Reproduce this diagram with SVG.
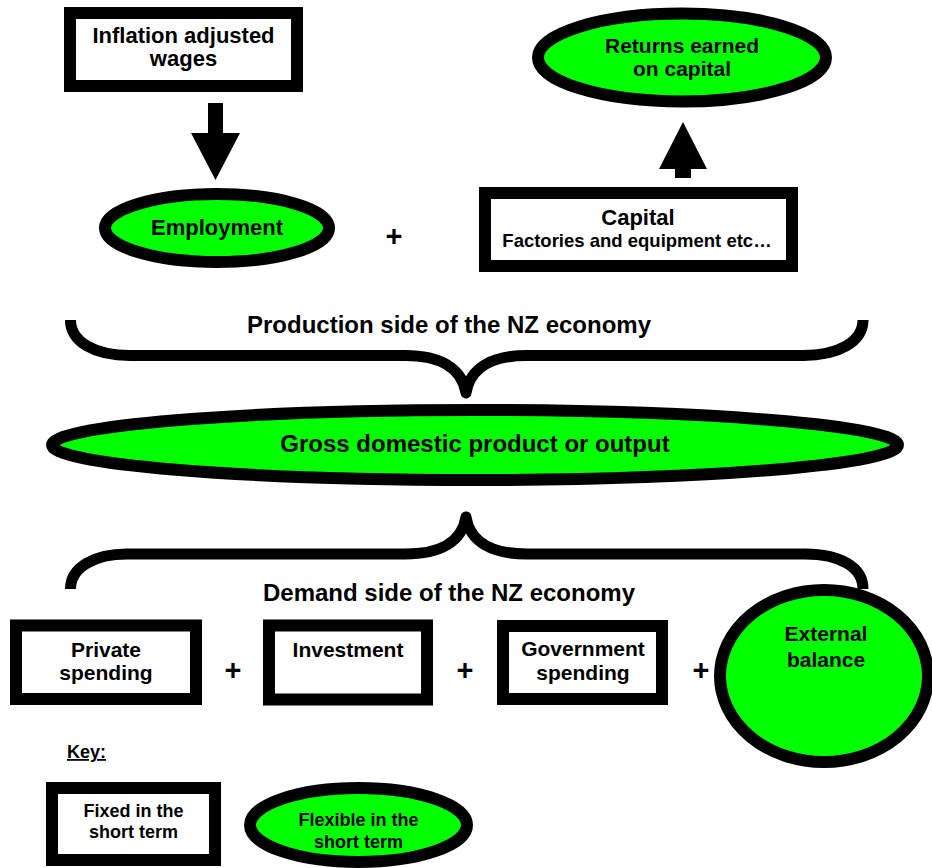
<svg xmlns="http://www.w3.org/2000/svg" width="932" height="868" viewBox="0 0 932 868">
<style>
.box{fill:#fff;stroke:#000;stroke-width:12}
.oval{fill:#00ff00;stroke:#000;stroke-width:12}
.brace{fill:none;stroke:#000;stroke-width:11;stroke-linecap:butt;stroke-linejoin:round}
.arrow{fill:#000;stroke:none}
text{font-family:"Liberation Sans",Arial,Helvetica,sans-serif;font-weight:bold;fill:#000;text-anchor:middle}
.t22{font-size:22px}
.t21{font-size:21px}
.t24{font-size:24px}
.t18{font-size:18px}
.plus{font-size:29px}
</style>
<rect width="932" height="868" fill="#fff"/>
<g id="connectors">
<polygon class="arrow" points="208,103 223,103 223,133 240,133 215.5,180 191,133 208,133"/>
<polygon class="arrow" points="683,122 707,169 691,169 691,178 675,178 675,169 659,169"/>
<path class="brace" d="M70.5,320 C70.5,342 95,355.5 130,355.5 L405,355.5 C440,355.5 462,368 466,393 C470,368 492,355.5 527,355.5 L803,355.5 C838,355.5 863,342 863,320"/>
<path class="brace" d="M70.5,589 C70.5,567 95,554 127,554 L405,554 C440,554 462,542 466,517 C470,542 492,554 527,554 L805,554 C840,554 863,567 863,589"/>
</g>
<g id="inflation">
<rect class="box" x="70" y="13" width="227" height="73"/>
<text class="t22" x="183.5" y="43">Inflation adjusted</text>
<text class="t22" x="183.5" y="66">wages</text>
</g>
<g id="returns">
<ellipse class="oval" cx="682" cy="57.5" rx="144" ry="44"/>
<text class="t21" x="682" y="53">Returns earned</text>
<text class="t21" x="682" y="76">on capital</text>
</g>
<g id="employment">
<ellipse class="oval" cx="217" cy="228" rx="112" ry="34"/>
<text class="t22" x="217" y="235">Employment</text>
</g>
<g id="plus-production">
<text class="plus" x="394" y="246">+</text>
</g>
<g id="capital">
<rect class="box" x="485" y="193" width="307" height="73"/>
<text class="t22" x="638" y="225">Capital</text>
<text class="t18" x="637" y="247" style="font-size:18.5px">Factories and equipment etc…</text>
</g>
<g id="production-label">
<text class="t24" x="449" y="333">Production side of the NZ economy</text>
</g>
<g id="gdp">
<ellipse class="oval" cx="475" cy="445" rx="423" ry="35"/>
<text class="t24" x="475" y="452">Gross domestic product or output</text>
</g>
<g id="demand-label">
<text class="t24" x="449" y="601">Demand side of the NZ economy</text>
</g>
<g id="private">
<rect class="box" x="16" y="625.5" width="180" height="73.5"/>
<text class="t21" x="106" y="657">Private</text>
<text class="t21" x="106" y="680">spending</text>
</g>
<g id="plus1"><text class="plus" x="233" y="680">+</text></g>
<g id="investment">
<rect class="box" x="269" y="625.5" width="158" height="74"/>
<text class="t21" x="348" y="657">Investment</text>
</g>
<g id="plus2"><text class="plus" x="465" y="680">+</text></g>
<g id="government">
<rect class="box" x="503" y="626" width="159" height="73"/>
<text class="t21" x="583" y="656">Government</text>
<text class="t21" x="583" y="680">spending</text>
</g>
<g id="plus3"><text class="plus" x="701" y="680">+</text></g>
<g id="external">
<ellipse class="oval" cx="824" cy="676" rx="104" ry="86"/>
<text class="t21" x="826" y="641">External</text>
<text class="t21" x="826" y="667">balance</text>
</g>
<g id="key-label">
<text class="t18" x="86.5" y="758" text-decoration="underline">Key:</text>
</g>
<g id="key-fixed">
<rect class="box" x="52" y="788" width="163" height="72"/>
<text class="t18" x="133.5" y="817">Fixed in the</text>
<text class="t18" x="133.5" y="838">short term</text>
</g>
<g id="key-flexible">
<ellipse class="oval" cx="358.5" cy="825" rx="108.5" ry="37"/>
<text class="t18" x="358.5" y="826">Flexible in the</text>
<text class="t18" x="358.5" y="848">short term</text>
</g>
</svg>
